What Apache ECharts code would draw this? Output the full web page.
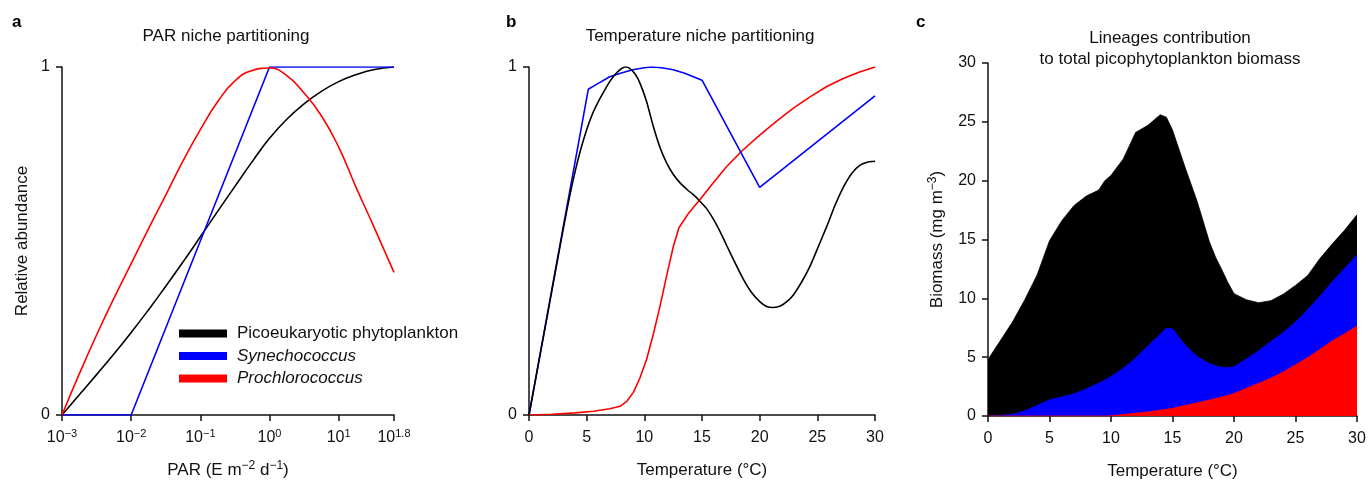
<!DOCTYPE html>
<html><head><meta charset="utf-8">
<script src="https://cdn.jsdelivr.net/npm/echarts@6/dist/echarts.min.js"></script>
<style>html,body{margin:0;padding:0;background:#fff}#c{width:1368px;height:480px}</style>
</head><body><div id="c"></div>
<script>
// ---------- shared ----------
const lineageNames = ['Picoeukaryotic phytoplankton', 'Synechococcus', 'Prochlorococcus'];
const lineageColors = ['#000000', '#0000ff', '#ff0000'];

// ---------- panel a: PAR (log10 of E m-2 d-1) ----------
const parTickValues = [-3, -2, -1, 0, 1, 1.8];
const parTickExponents = ['−3', '−2', '−1', '0', '1', '1.8'];
const parLogX = [-3, -2.75, -2.5, -2.25, -2, -1.75, -1.5, -1.25, -1, -0.75, -0.5, -0.25, 0, 0.25, 0.5, 0.75, 1, 1.25, 1.5, 1.8];
const parPico = [0, 0.058, 0.116, 0.175, 0.237, 0.302, 0.37, 0.44, 0.512, 0.585, 0.657, 0.728, 0.795, 0.85, 0.894, 0.93, 0.958, 0.978, 0.992, 1.0];
const parPro  = [0, 0.118, 0.23, 0.335, 0.435, 0.535, 0.632, 0.73, 0.82, 0.9, 0.96, 0.99, 0.997, 0.975, 0.925, 0.86, 0.77, 0.655, 0.545, 0.41];
const parLogX_syn = [-3, -2, 0, 1.8];
const parSyn = [0, 0, 1, 1];

// ---------- panel b: temperature niche ----------
const tempX_pico = [0, 1, 2, 3, 3.5, 4, 4.5, 5, 5.5, 6, 6.5, 7, 7.5, 8, 8.33, 8.7, 9.2, 9.63, 10.2, 10.78, 11.4, 11.94, 12.5, 13.1, 13.7, 14.25, 14.8, 15.4, 16, 16.6, 17.14, 17.9, 18.59, 19.3, 20.03, 20.6, 21.19, 21.8, 22.4, 22.92, 23.6, 24.37, 25.1, 25.82, 26.5, 27.26, 28, 28.71, 29.4, 30];
const tempPico = [0, 0.18, 0.36, 0.54, 0.625, 0.7, 0.765, 0.82, 0.865, 0.9, 0.93, 0.958, 0.98, 0.995, 1.0, 0.997, 0.98, 0.953, 0.9, 0.829, 0.765, 0.724, 0.692, 0.667, 0.648, 0.633, 0.615, 0.593, 0.562, 0.525, 0.487, 0.435, 0.39, 0.352, 0.325, 0.312, 0.309, 0.313, 0.327, 0.345, 0.38, 0.428, 0.485, 0.542, 0.6, 0.655, 0.695, 0.718, 0.727, 0.729];
const tempX_syn = [0, 5.14, 6, 7, 8, 9, 10, 10.6, 11.5, 12.5, 13.5, 14.2, 15, 20, 30];
const tempSyn = [0, 0.936, 0.953, 0.972, 0.983, 0.992, 0.998, 1.0, 0.998, 0.992, 0.982, 0.973, 0.962, 0.654, 0.917];
const tempX_pro = [0, 2, 4, 5.58, 7, 7.89, 8.5, 9.05, 9.6, 10.2, 10.8, 11.36, 12, 12.52, 13.0, 13.8, 14.83, 16, 17.14, 18.5, 20.03, 21.5, 22.92, 24.4, 25.82, 27.2, 28.6, 30];
const tempPro = [0, 0.002, 0.006, 0.011, 0.018, 0.025, 0.04, 0.065, 0.105, 0.16, 0.235, 0.313, 0.41, 0.485, 0.538, 0.578, 0.619, 0.668, 0.714, 0.76, 0.805, 0.845, 0.882, 0.915, 0.944, 0.966, 0.985, 1.0];

// ---------- panel c: biomass contributions (mg m-3) ----------
const biomassTemp = [0, 1, 2, 3, 4, 5, 6, 7, 8, 9, 9.5, 10, 11, 12, 13, 14, 14.5, 15, 16, 17, 18, 18.5, 19, 19.5, 20, 21, 22, 23, 24, 25, 26, 27, 28, 29, 30];
const biomassPro  = [0, 0, 0, 0, 0, 0, 0, 0, 0, 0, 0, 0.02, 0.12, 0.25, 0.35, 0.5, 0.58, 0.65, 0.9, 1.12, 1.35, 1.48, 1.62, 1.76, 1.92, 2.35, 2.78, 3.22, 3.75, 4.35, 4.98, 5.68, 6.4, 7.0, 7.65];
const biomassSyn  = [0, 0.05, 0.15, 0.45, 0.9, 1.38, 1.62, 1.9, 2.3, 2.8, 3.05, 3.33, 3.93, 4.68, 5.6, 6.45, 6.9, 6.75, 5.15, 3.93, 3.1, 2.8, 2.53, 2.34, 2.26, 2.5, 2.77, 3.11, 3.35, 3.63, 4.07, 4.52, 5.02, 5.55, 6.05];
const biomassPico = [4.8, 6.35, 7.85, 9.45, 11.1, 13.52, 14.98, 16.0, 16.4, 16.4, 16.95, 17.1, 17.8, 19.17, 18.75, 18.65, 17.92, 16.9, 15.15, 13.2, 10.35, 9.22, 8.3, 7.25, 6.22, 5.03, 4.07, 3.47, 3.25, 3.12, 2.9, 3.2, 3.22, 3.25, 3.4];

const zip = (xs, ys) => xs.map((x, i) => [x, ys[i]]);
// cumulative layers (stack drawn as overlapping areas, bottom layer on top)
const cumPro = biomassPro.slice();
const cumSyn = biomassPro.map((v, i) => v + biomassSyn[i]);
const cumTotal = cumSyn.map((v, i) => v + biomassPico[i]);

const FONT = "'Liberation Sans', Arial, Helvetica, sans-serif";
const AX = { color: '#111', width: 1.5 };
const tickText = { fontFamily: FONT, fontSize: 16, color: '#111' };
const bigText = { fontFamily: FONT, fontSize: 17, color: '#111' };

function valueAxis(extra) {
  return Object.assign({
    type: 'value',
    splitLine: { show: false },
    axisLine: { show: true, onZero: false, lineStyle: AX },
    axisTick: { show: true, length: 6, lineStyle: AX },
    axisLabel: Object.assign({ margin: 12 }, tickText),
    nameTextStyle: Object.assign({}, bigText),
    nameLocation: 'middle'
  }, extra);
}
const xLabel = Object.assign({ margin: 15 }, tickText);

const chart = echarts.init(document.getElementById('c'), null, { renderer: 'canvas' });

const tickRich = {
  n: { fontFamily: FONT, fontSize: 16, color: '#111', verticalAlign: 'bottom' },
  s: { fontFamily: FONT, fontSize: 11, color: '#111', verticalAlign: 'bottom', padding: [0, 0, 7, 0] }
};
const nameRich = {
  n: { fontFamily: FONT, fontSize: 17, color: '#111', verticalAlign: 'bottom' },
  s: { fontFamily: FONT, fontSize: 12, color: '#111', verticalAlign: 'bottom', padding: [0, 0, 7, 0] }
};
const titleStyle = { fontFamily: FONT, fontSize: 17, fontWeight: 'normal', color: '#111' };
const letterStyle = { fontFamily: FONT, fontSize: 17, fontWeight: 'bold', color: '#000' };

const option = {
  animation: false,
  backgroundColor: '#fff',
  textStyle: { fontFamily: FONT },
  title: [
    { text: 'a', left: 12, top: 14, padding: 0, textStyle: letterStyle },
    { text: 'b', left: 506, top: 14, padding: 0, textStyle: letterStyle },
    { text: 'c', left: 916, top: 14, padding: 0, textStyle: letterStyle },
    { text: 'PAR niche partitioning', left: 226, top: 28, padding: 0, textAlign: 'center', textStyle: titleStyle },
    { text: 'Temperature niche partitioning', left: 700, top: 28, padding: 0, textAlign: 'center', textStyle: titleStyle },
    { text: 'Lineages contribution\nto total picophytoplankton biomass', left: 1170, top: 28, padding: 0, textAlign: 'center', textStyle: Object.assign({ lineHeight: 21 }, titleStyle) }
  ],
  legend: {
    data: lineageNames,
    left: 179, top: 325, padding: 0,
    orient: 'vertical',
    icon: 'rect',
    itemWidth: 48, itemHeight: 8, itemGap: 5.5,
    selectedMode: false,
    formatter: (name) => name === lineageNames[0] ? '{n|' + name + '}' : '{i|' + name + '}',
    textStyle: {
      rich: {
        n: { fontFamily: FONT, fontSize: 17, color: '#111', padding: [0, 0, 0, 5] },
        i: { fontFamily: FONT, fontSize: 17, color: '#111', fontStyle: 'italic', padding: [0, 0, 0, 5] }
      }
    }
  },
  grid: [
    { left: 62, top: 67, width: 332, height: 348, outerBoundsMode: 'none', containLabel: false },
    { left: 529, top: 67, width: 346, height: 348, outerBoundsMode: 'none', containLabel: false },
    { left: 988, top: 63, width: 369, height: 353, outerBoundsMode: 'none', containLabel: false }
  ],
  xAxis: [
    valueAxis({
      gridIndex: 0, min: -3, max: 1.8,
      axisTick: { show: true, length: 6, lineStyle: AX, customValues: parTickValues },
      axisLabel: {
        margin: 13,
        customValues: parTickValues,
        formatter: (v) => {
          const i = parTickValues.findIndex(t => Math.abs(t - v) < 1e-6);
          return '{n|10}{s|' + parTickExponents[i] + '}';
        },
        rich: tickRich
      },
      name: '{n|PAR (E m}{s|−2}{n| d}{s|−1}{n|)}',
      nameGap: 45,
      nameTextStyle: { rich: nameRich }
    }),
    valueAxis({ gridIndex: 1, min: 0, max: 30, interval: 5, axisLabel: xLabel, name: 'Temperature (°C)', nameGap: 47 }),
    valueAxis({ gridIndex: 2, min: 0, max: 30, interval: 5, axisLabel: xLabel, name: 'Temperature (°C)', nameGap: 47 })
  ],
  yAxis: [
    valueAxis({ gridIndex: 0, min: 0, max: 1, interval: 1, name: 'Relative abundance', nameGap: 31 }),
    valueAxis({ gridIndex: 1, min: 0, max: 1, interval: 1 }),
    valueAxis({
      gridIndex: 2, min: 0, max: 30, interval: 5,
      name: '{n|Biomass (mg m}{s|−3}{n|)}', nameGap: 42,
      nameTextStyle: { rich: nameRich }
    })
  ],
  series: [
    // panel a
    { name: lineageNames[0], type: 'line', xAxisIndex: 0, yAxisIndex: 0, data: zip(parLogX, parPico), smooth: 0.5, showSymbol: false, color: lineageColors[0], lineStyle: { width: 1.6, color: lineageColors[0] } },
    { name: lineageNames[1], type: 'line', xAxisIndex: 0, yAxisIndex: 0, data: zip(parLogX_syn, parSyn), showSymbol: false, color: lineageColors[1], lineStyle: { width: 1.6, color: lineageColors[1] } },
    { name: lineageNames[2], type: 'line', xAxisIndex: 0, yAxisIndex: 0, data: zip(parLogX, parPro), smooth: 0.5, showSymbol: false, color: lineageColors[2], lineStyle: { width: 1.6, color: lineageColors[2] } },
    // panel b
    { name: lineageNames[2], type: 'line', xAxisIndex: 1, yAxisIndex: 1, data: zip(tempX_pro, tempPro), showSymbol: false, color: lineageColors[2], lineStyle: { width: 1.6, color: lineageColors[2] } },
    { name: lineageNames[1], type: 'line', xAxisIndex: 1, yAxisIndex: 1, data: zip(tempX_syn, tempSyn), showSymbol: false, color: lineageColors[1], lineStyle: { width: 1.6, color: lineageColors[1] } },
    { name: lineageNames[0], type: 'line', xAxisIndex: 1, yAxisIndex: 1, data: zip(tempX_pico, tempPico), smooth: 0.2, showSymbol: false, color: lineageColors[0], lineStyle: { width: 1.6, color: lineageColors[0] } },
    // panel c (cumulative layers)
    { name: lineageNames[0], type: 'line', xAxisIndex: 2, yAxisIndex: 2, data: zip(biomassTemp, cumTotal), showSymbol: false, color: lineageColors[0], lineStyle: { width: 0.8, color: lineageColors[0] }, areaStyle: { color: lineageColors[0], opacity: 1 } },
    { name: lineageNames[1], type: 'line', xAxisIndex: 2, yAxisIndex: 2, data: zip(biomassTemp, cumSyn), showSymbol: false, color: lineageColors[1], lineStyle: { width: 0.8, color: lineageColors[1] }, areaStyle: { color: lineageColors[1], opacity: 1 } },
    { name: lineageNames[2], type: 'line', xAxisIndex: 2, yAxisIndex: 2, data: zip(biomassTemp, cumPro), showSymbol: false, color: lineageColors[2], lineStyle: { width: 0.8, color: lineageColors[2] }, areaStyle: { color: lineageColors[2], opacity: 1 } }
  ]
};
chart.setOption(option);
</script>
</body></html>
